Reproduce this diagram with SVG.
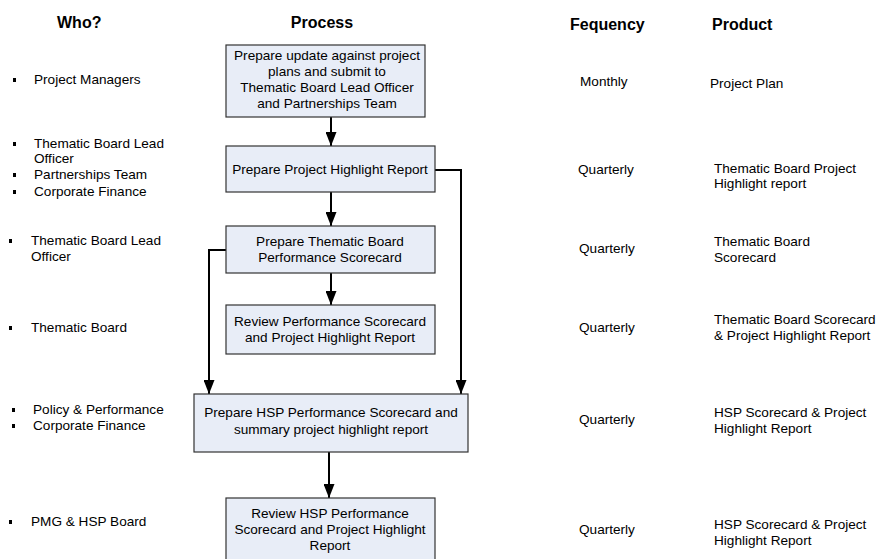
<svg xmlns="http://www.w3.org/2000/svg" width="877" height="559" viewBox="0 0 877 559">
<style>
text{font-family:"Liberation Sans",Arial,sans-serif;font-size:13.6px;fill:#000}
.h{font-weight:bold;font-size:16px}
.c{text-anchor:middle}
.box{fill:#e8edf7;stroke:#333;stroke-width:1.2}
.ln{fill:none;stroke:#000;stroke-width:2}
.b{fill:#000}
</style>
<defs>
<marker id="a" markerWidth="14" markerHeight="11" refX="14" refY="5.5" orient="auto" markerUnits="userSpaceOnUse" viewBox="0 0 14 11">
<path d="M0,0 L14,5.5 L0,11 Z" fill="#000"/>
</marker>
</defs>
<g id="headers">
<text class="h" x="57" y="28">Who?</text>
<text class="h c" x="322" y="28">Process</text>
<text class="h" x="570" y="30">Fequency</text>
<text class="h" x="712" y="30">Product</text>
</g>
<g id="who">
<rect class="b" x="13" y="78" width="3" height="4"/><text x="34" y="84">Project Managers</text>
<rect class="b" x="13" y="142" width="3" height="4"/><text x="34" y="148">Thematic Board Lead</text>
<text x="34" y="163">Officer</text>
<rect class="b" x="13" y="173" width="3" height="4"/><text x="34" y="179">Partnerships Team</text>
<rect class="b" x="13" y="190" width="3" height="4"/><text x="34" y="196">Corporate Finance</text>
<rect class="b" x="9" y="239" width="3" height="4"/><text x="31" y="245">Thematic Board Lead</text>
<text x="31" y="261">Officer</text>
<rect class="b" x="9" y="326" width="3" height="4"/><text x="31" y="332">Thematic Board</text>
<rect class="b" x="12" y="408" width="3" height="4"/><text x="33" y="414">Policy &amp; Performance</text>
<rect class="b" x="12" y="424" width="3" height="4"/><text x="33" y="430">Corporate Finance</text>
<rect class="b" x="9" y="520" width="3" height="4"/><text x="31" y="526">PMG &amp; HSP Board</text>
</g>
<g id="connectors">
<line class="ln" x1="331" y1="117" x2="331" y2="146" marker-end="url(#a)"/>
<line class="ln" x1="331" y1="192" x2="331" y2="226" marker-end="url(#a)"/>
<line class="ln" x1="331" y1="273" x2="331" y2="305" marker-end="url(#a)"/>
<polyline class="ln" points="435,170 461,170 461,394" marker-end="url(#a)"/>
<polyline class="ln" points="226,250 209,250 209,394" marker-end="url(#a)"/>
<line class="ln" x1="329" y1="452" x2="329" y2="498" marker-end="url(#a)"/>
</g>
<g id="n1"><rect class="box" x="226" y="45" width="199" height="72"/>
<text class="c" x="327" y="60">Prepare update against project</text>
<text class="c" x="327" y="76">plans and submit to</text>
<text class="c" x="327" y="92">Thematic Board Lead Officer</text>
<text class="c" x="327" y="108">and Partnerships Team</text></g>
<g id="n2"><rect class="box" x="226" y="146" width="209" height="46"/>
<text class="c" x="330" y="174">Prepare Project Highlight Report</text></g>
<g id="n3"><rect class="box" x="226" y="226" width="209" height="47"/>
<text class="c" x="330" y="246">Prepare Thematic Board</text>
<text class="c" x="330" y="262">Performance Scorecard</text></g>
<g id="n4"><rect class="box" x="226" y="305" width="209" height="49"/>
<text class="c" x="330" y="326">Review Performance Scorecard</text>
<text class="c" x="330" y="342">and Project Highlight Report</text></g>
<g id="n5"><rect class="box" x="194" y="394" width="274" height="58"/>
<text class="c" x="331" y="417">Prepare HSP Performance Scorecard and</text>
<text class="c" x="331" y="434">summary project highlight report</text></g>
<g id="n6"><rect class="box" x="226" y="498" width="209" height="70"/>
<text class="c" x="330" y="518">Review HSP Performance</text>
<text class="c" x="330" y="534">Scorecard and Project Highlight</text>
<text class="c" x="330" y="550">Report</text></g>
<g id="frequency">
<text x="580" y="86">Monthly</text>
<text x="578" y="174">Quarterly</text>
<text x="579" y="253">Quarterly</text>
<text x="579" y="332">Quarterly</text>
<text x="579" y="424">Quarterly</text>
<text x="579" y="534">Quarterly</text>
</g>
<g id="product">
<text x="710" y="88">Project Plan</text>
<text x="714" y="173">Thematic Board Project</text>
<text x="714" y="188">Highlight report</text>
<text x="714" y="246">Thematic Board</text>
<text x="714" y="262">Scorecard</text>
<text x="714" y="324">Thematic Board Scorecard</text>
<text x="714" y="340">&amp; Project Highlight Report</text>
<text x="714" y="417">HSP Scorecard &amp; Project</text>
<text x="714" y="433">Highlight Report</text>
<text x="714" y="529">HSP Scorecard &amp; Project</text>
<text x="714" y="545">Highlight Report</text>
</g>
</svg>
